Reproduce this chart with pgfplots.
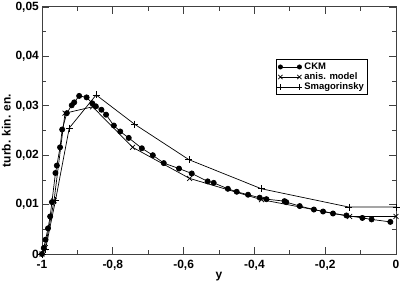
\documentclass[border=0pt]{standalone}
\usepackage{pgfplots}
\pgfplotsset{compat=1.18}
\usepackage{fontspec}
\setmainfont{Liberation Sans}
\begin{document}
\begin{tikzpicture}
\path[use as bounding box] (-42bp,-30bp) rectangle (358bp,254bp);
\begin{axis}[
  at={(0,0)}, anchor=south west,
  scale only axis, width=354bp, height=247bp,
  xmin=-1, xmax=0, ymin=0, ymax=0.05,
  xtick={-1,-0.8,-0.6,-0.4,-0.2,0},
  ytick={0,0.01,0.02,0.03,0.04,0.05},
  minor x tick num=1, minor y tick num=1,
  major tick length=7bp, minor tick length=4bp,
  tick align=inside,
  scaled y ticks=false, scaled x ticks=false,
  axis line style={black!75, line width=1bp},
  every tick/.style={black!75, line width=0.8bp},
  clip=false,
  /pgf/number format/assume math mode=true,
  xticklabel style={font=\bfseries\fontsize{12}{12}\selectfont, inner sep=0pt, anchor=north, yshift=-6bp,
    /pgf/number format/.cd, use comma, fixed, precision=1},
  yticklabel style={font=\bfseries\fontsize{12}{12}\selectfont, inner sep=0pt, anchor=east, xshift=-3bp,
    /pgf/number format/.cd, use comma, fixed, precision=2},
  xlabel={y}, ylabel={turb. kin. en.},
  xlabel style={font=\bfseries\fontsize{12}{13}\selectfont, at={(axis description cs:0.5,-0.1012)}, anchor=base, inner sep=0pt},
  ylabel style={font=\bfseries\fontsize{12}{13}\selectfont, at={(axis description cs:-0.088,0.5)}, anchor=south, inner sep=0pt, rotate=0},
  legend style={at={(axis description cs:0.66,0.789)}, anchor=north west, draw=black, line width=0.6bp,
    font=\bfseries\fontsize{9.5}{10}\selectfont, inner sep=1.5bp, row sep=-2.2bp, cells={anchor=west}},
  legend image code/.code={\draw[#1] plot coordinates {(0bp,0bp) (19bp,0bp)};},
]
\addplot[black, line width=0.7bp, mark=*, mark size=2.6bp, legend image post style={mark size=2.1bp}] coordinates {
(-1.000,0.0000) (-0.995,0.0012) (-0.990,0.0029) (-0.983,0.0052) (-0.977,0.0076)
(-0.972,0.0105) (-0.962,0.0164) (-0.958,0.0179) (-0.949,0.0216) (-0.943,0.0252)
(-0.930,0.0285) (-0.916,0.0301) (-0.909,0.0307) (-0.895,0.0320) (-0.874,0.0317)
(-0.858,0.0305) (-0.848,0.0299) (-0.832,0.0292) (-0.819,0.0282) (-0.797,0.0260)
(-0.779,0.0248) (-0.755,0.0235) (-0.718,0.0214) (-0.687,0.0200) (-0.656,0.0184)
(-0.613,0.0173) (-0.577,0.0163) (-0.532,0.0147) (-0.515,0.0144) (-0.475,0.0132)
(-0.450,0.0126) (-0.418,0.0120) (-0.385,0.0114) (-0.366,0.0111) (-0.315,0.0107)
(-0.310,0.0105) (-0.272,0.0097) (-0.232,0.0090) (-0.206,0.0086) (-0.178,0.0082)
(-0.140,0.0078) (-0.095,0.0073) (-0.069,0.0070) (-0.016,0.0065)
};
\addlegendentry{CKM}
\addplot[black, line width=0.7bp, mark=x, mark size=3.5bp, legend image post style={mark size=3bp}] coordinates {
(-1.000,0.0000) (-0.991,0.0013) (-0.966,0.0108) (-0.935,0.0285) (-0.857,0.0298)
(-0.744,0.0216) (-0.583,0.0153) (-0.380,0.0110) (-0.131,0.0076) (0.000,0.0076)
};
\addlegendentry{anis. model}
\addplot[black, line width=0.7bp, mark=+, mark size=3.5bp, legend image post style={mark size=3bp}] coordinates {
(-1.000,0.0000) (-0.990,0.0010) (-0.962,0.0108) (-0.923,0.0255) (-0.847,0.0322)
(-0.739,0.0263) (-0.585,0.0191) (-0.380,0.0132) (-0.133,0.0095) (0.000,0.0095)
};
\addlegendentry{Smagorinsky}
\end{axis}
\end{tikzpicture}
\end{document}
